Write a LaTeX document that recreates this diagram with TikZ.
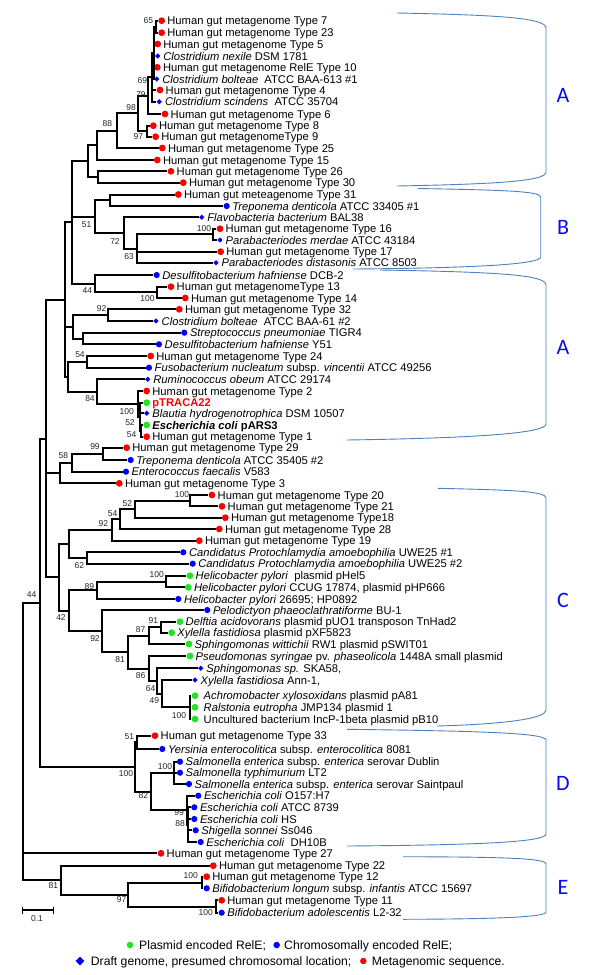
\documentclass[tikz,border=0pt]{standalone}
\usepackage{fontspec}
\setmainfont{Liberation Sans}
\newfontfamily\carlito{Carlito}
\usetikzlibrary{shapes.geometric}
\definecolor{mred}{RGB}{255,0,0}
\definecolor{mblue}{RGB}{0,0,255}
\definecolor{mgreen}{RGB}{30,230,30}
\definecolor{brkc}{RGB}{79,129,189}
\definecolor{cladeblue}{RGB}{10,10,240}
\newcommand{\leafnode}[6][5.5]{\node[#5] (#2) at (#3,#4) {};\node[lab,anchor=base west] (#2t) at ({#3+#1},{#4+4.2}) {#6};}
\begin{document}
\begin{tikzpicture}[x=1pt,y=-1pt,
  br/.style={line width=2pt, line join=miter},
  rdot/.style={circle, fill=mred, inner sep=0pt, minimum size=6.8pt},
  bdot/.style={circle, fill=mblue, inner sep=0pt, minimum size=6.2pt},
  gdot/.style={circle, fill=mgreen, inner sep=0pt, minimum size=6.8pt},
  bdia/.style={diamond, fill=mblue, inner sep=0pt, minimum size=5.4pt},
  lab/.style={font=\fontsize{11.2}{13}\selectfont, inner sep=0pt},
  bs/.style={font=\fontsize{8.5}{10}\selectfont, inner sep=0pt, text=black!85},
  brk/.style={draw=brkc, line width=0.9pt},
  clade/.style={font=\carlito\fontsize{22}{24}\selectfont, text=cladeblue, inner sep=0pt},
  leg/.style={font=\fontsize{12.2}{14}\selectfont, inner sep=0pt}]
\path[use as bounding box, fill=white] (0,0) rectangle (600,975);

% ---------- leaves ----------
\leafnode{L1}{161.7}{20.7}{rdot}{Human gut metagenome Type 7}
\leafnode{L2}{161.7}{32.7}{rdot}{Human gut metagenome Type 23}
\leafnode{L3}{157.7}{44}{rdot}{Human gut metagenome Type 5}
\leafnode{L4}{157.7}{56}{bdia}{\textit{Clostridium nexile} DSM 1781}
\leafnode{L5}{157.3}{67.3}{rdot}{Human gut metagenome RelE Type 10}
\leafnode{L6}{156.7}{79}{bdia}{\textit{Clostridium bolteae}\ \ ATCC BAA-613 \#1}
\leafnode{L7}{160}{90}{rdot}{Human gut metagenome Type 4}
\leafnode{L8}{159.3}{101.7}{bdia}{\textit{Clostridium scindens}\ \ ATCC 35704}
\leafnode{L9}{165}{114}{rdot}{Human gut metagenome Type 6}
\leafnode{L10}{153.3}{125.7}{rdot}{Human gut metagenome Type 8}
\leafnode{L11}{155.7}{136.7}{rdot}{Human gut metagenomeType 9}
\leafnode{L12}{162.3}{148}{rdot}{Human gut metagenome Type 25}
\leafnode{L13}{157.3}{160}{rdot}{Human gut metagenome Type 15}
\leafnode{L14}{171}{171.3}{rdot}{Human gut metagenome Type 26}
\leafnode{L15}{183.3}{182.7}{rdot}{Human gut metagenome Type 30}
\leafnode{L16}{178.3}{194.5}{rdot}{Human gut meteagenome Type 31}
\leafnode{L17}{226.7}{206}{bdot}{\textit{Treponema denticola} ATCC 33405 \#1}
\leafnode{L18}{201.7}{217.3}{bdia}{\textit{Flavobacteria bacterium} BAL38}
\leafnode{L19}{220}{228.7}{rdot}{Human gut metagenome Type 16}
\leafnode{L20}{220}{240}{bdia}{\textit{Parabacteriodes merdae} ATCC 43184}
\leafnode{L21}{220.7}{251.7}{rdot}{Human gut metagenome Type 17}
\leafnode{L22}{216}{262.7}{bdia}{\textit{Parabacteriodes distasonis} ATCC 8503}
\leafnode{L23}{156.7}{275}{bdot}{\textit{Desulfitobacterium hafniense} DCB-2}
\leafnode{L24}{171}{286.7}{rdot}{Human gut metagenomeType 13}
\leafnode{L25}{185.3}{298}{rdot}{Human gut metagenome Type 14}
\leafnode{L26}{179.3}{309.3}{rdot}{Human gut metagenome Type 32}
\leafnode{L27}{156}{321}{bdia}{\textit{Clostridium bolteae}\ \ ATCC BAA-61 \#2}
\leafnode{L28}{184.3}{332.7}{bdot}{\textit{Streptococcus pneumoniae} TIGR4}
\leafnode{L29}{159}{344.3}{bdot}{\textit{Desulfitobacterium hafniense} Y51}
\leafnode{L30}{150.7}{356}{rdot}{Human gut metagenome Type 24}
\leafnode{L31}{149}{367.7}{bdot}{\textit{Fusobacterium nucleatum} subsp. \textit{vincentii} ATCC 49256}
\leafnode{L32}{147.7}{379.3}{bdia}{\textit{Ruminococcus obeum} ATCC 29174}
\leafnode{L33}{146.7}{391}{rdot}{Human gut metagenome Type 2}
\leafnode{L34}{146.7}{402.7}{gdot}{\textcolor{mred}{\textbf{pTRACA22}}}
\leafnode{L35}{146.7}{413.3}{bdia}{\textit{Blautia hydrogenotrophica} DSM 10507}
\leafnode{L36}{146.7}{425}{gdot}{\textbf{\textit{Escherichia coli} pARS3}}
\leafnode{L37}{146.7}{436.7}{rdot}{Human gut metagenome Type 1}
\leafnode{L38}{126.7}{447.7}{rdot}{Human gut metagenome Type 29}
\leafnode{L39}{130.7}{460}{bdot}{\textit{Treponema denticola} ATCC 35405 \#2}
\leafnode{L40}{126}{471.7}{bdot}{\textit{Enterococcus faecalis} V583}
\leafnode{L41}{119.3}{483.3}{rdot}{Human gut metagenome Type 3}
\leafnode{L42}{212}{495}{rdot}{Human gut metagenome Type 20}
\leafnode{L43}{222}{506.3}{rdot}{Human gut metagenome Type 21}
\leafnode{L44}{225.3}{517.7}{rdot}{Human gut metagenome Type18}
\leafnode{L45}{219.3}{529}{rdot}{Human gut metagenome Type 28}
\leafnode{L46}{199.3}{540.7}{rdot}{Human gut metagenome Type 19}
\leafnode{L47}{183.3}{552.3}{bdot}{\textit{Candidatus Protochlamydia amoebophilia} UWE25 \#1}
\leafnode{L48}{192.7}{563.7}{bdot}{\textit{Candidatus Protochlamydia amoebophilia} UWE25 \#2}
\leafnode{L49}{190}{575.7}{gdot}{\textit{Helicobacter pylori}\ \ plasmid pHel5}
\leafnode{L50}{188.3}{587.3}{gdot}{\textit{Helicobacter pylori} CCUG 17874, plasmid pHP666}
\leafnode{L51}{178.3}{599}{bdot}{\textit{Helicobacter pylori} 26695; HP0892}
\leafnode{L52}{207.3}{610}{bdot}{\textit{Pelodictyon phaeoclathratiforme} BU-1}
\leafnode{L53}{180}{621.7}{gdot}{\textit{Delftia acidovorans} plasmid pUO1 transposon TnHad2}
\leafnode{L54}{171.7}{632.7}{gdot}{\textit{Xylella fastidiosa} plasmid pXF5823}
\leafnode{L55}{189}{644}{gdot}{\textit{Sphingomonas wittichii} RW1 plasmid pSWIT01}
\leafnode{L56}{190}{656}{gdot}{\textit{Pseudomonas syringae} pv. \textit{phaseolicola} 1448A small plasmid}
\leafnode{L57}{200.7}{668.3}{bdia}{\textit{Sphingomonas sp.} SKA58,}
\leafnode{L58}{195}{680}{bdia}{\textit{Xylella fastidiosa} Ann-1,}
\leafnode[8.5]{L59}{195}{695.7}{gdot}{\textit{Achromobacter xylosoxidans} plasmid pA81}
\leafnode[8.5]{L60}{195}{707.3}{gdot}{\textit{Ralstonia eutropha} JMP134 plasmid 1}
\leafnode[8.5]{L61}{195}{719}{gdot}{Uncultured bacterium IncP-1beta plasmid pB10}
\leafnode{L62}{155}{735.7}{rdot}{Human gut metagenome Type 33}
\leafnode{L63}{162.3}{749}{bdot}{\textit{Yersinia enterocolitica} subsp. \textit{enterocolitica} 8081}
\leafnode{L64}{180}{761.7}{bdot}{\textit{Salmonella enterica} subsp. \textit{enterica} serovar Dublin}
\leafnode{L65}{180}{772.7}{bdot}{\textit{Salmonella typhimurium} LT2}
\leafnode{L66}{189}{784}{bdot}{\textit{Salmonella enterica} subsp. \textit{enterica} serovar Saintpaul}
\leafnode{L67}{198.3}{795.7}{bdot}{\textit{Escherichia coli} O157:H7}
\leafnode{L68}{194.3}{807.3}{bdot}{\textit{Escherichia coli} ATCC 8739}
\leafnode{L69}{194.3}{819}{bdot}{\textit{Escherichia coli} HS}
\leafnode{L70}{195.7}{830.3}{bdot}{\textit{Shigella sonnei} Ss046}
\leafnode{L71}{200.7}{842}{bdot}{\textit{Escherichia coli}\ \ DH10B}
\leafnode{L72}{161}{853.3}{rdot}{Human gut metagenome Type 27}
\leafnode{L73}{213.3}{865.7}{rdot}{Human gut metagenome Type 22}
\leafnode{L74}{206.7}{876.7}{rdot}{Human gut metagenome Type 12}
\leafnode{L75}{206.7}{888.3}{bdot}{\textit{Bifidobacterium longum} subsp. \textit{infantis} ATCC 15697}
\leafnode{L76}{221.7}{900.3}{rdot}{Human gut metagenome Type 11}
\leafnode{L77}{221.7}{912.7}{bdot}{\textit{Bifidobacterium adolescentis} L2-32}

% ---------- internal nodes ----------
\coordinate (tA1) at (155.5,26.7);
\coordinate (nTop) at (153.5,52.85);
\coordinate (n69) at (151.5,77.3);
\coordinate (n79) at (148.3,95.6);
\coordinate (n97) at (146.7,131.2);
\coordinate (n98) at (138.3,113.4);
\coordinate (n88b) at (116.7,130.7);
\coordinate (n88) at (96.7,145.3);
\coordinate (nX265) at (88.3,161.2);
\coordinate (nX295) at (98.3,177);
\coordinate (n100B) at (213.3,234.3);
\coordinate (n63) at (136.7,248.5);
\coordinate (n72) at (124,232.9);
\coordinate (nX330) at (110,200.3);
\coordinate (n51) at (95,216.6);
\coordinate (n100b) at (156.7,292.3);
\coordinate (n44a) at (95,283.7);
\coordinate (nX215) at (71.7,222.4);
\coordinate (n92a) at (108.3,315.2);
\coordinate (nSp) at (82.7,338.5);
\coordinate (nX218) at (72.7,326.8);
\coordinate (n54a) at (87.3,361.8);
\coordinate (c3) at (141,430.8);
\coordinate (c2) at (139.5,416.8);
\coordinate (c1) at (138.3,403.9);
\coordinate (n84) at (96.7,391.6);
\coordinate (nX205) at (68.3,376.7);
\coordinate (nX65) at (65,299.6);
\coordinate (n99) at (103.3,453.8);
\coordinate (nX71b) at (71.7,462.8);
\coordinate (n58) at (60,473);
\coordinate (n100c) at (190,500.7);
\coordinate (n52c) at (135,509.2);
\coordinate (n54c) at (120,519.1);
\coordinate (n92c) at (111.7,529.9);
\coordinate (n62) at (87.3,558);
\coordinate (nX69) at (69.3,544);
\coordinate (n100h) at (166,581.5);
\coordinate (n89) at (96.7,590.3);
\coordinate (n91) at (160.7,627.2);
\coordinate (n87) at (149.3,635.6);
\coordinate (n100a) at (190,707.3);
\coordinate (n49) at (161.7,693.7);
\coordinate (n64) at (157,681);
\coordinate (n86) at (149.3,668.5);
\coordinate (n81) at (128.3,652);
\coordinate (n92d) at (101.7,631);
\coordinate (n42) at (69.3,610.7);
\coordinate (nX59) at (59.3,577.3);
\coordinate (nX46) at (46,438.5);
\coordinate (n51d) at (137.3,742.3);
\coordinate (nSal) at (174,772.8);
\coordinate (nEc2) at (188.3,824.7);
\coordinate (nEc1) at (186.7,810.2);
\coordinate (n82) at (150.7,791.5);
\coordinate (n100d) at (135,766.9);
\coordinate (nX40) at (40,602.7);
\coordinate (n100e1) at (201.7,882.5);
\coordinate (n100e2) at (216,906.5);
\coordinate (n97e) at (128.3,894.5);
\coordinate (n81e) at (61,880.1);
\coordinate (root) at (22.7,741.4);

% ---------- branches ----------
\foreach \p/\c in {tA1/L1, tA1/L2,
  nTop/tA1, nTop/L3, nTop/L4, nTop/L5, nTop/L6,
  n69/nTop, n69/L7, n69/L8, n79/n69, n79/L9,
  n97/L10, n97/L11, n98/n79, n98/n97, n88b/n98, n88b/L12,
  n88/n88b, n88/L13, nX295/L14, nX295/L15, nX265/n88, nX265/nX295,
  nX330/L16, nX330/L17, n100B/L19, n100B/L20,
  n63/n100B, n63/L21, n63/L22, n72/L18, n72/n63, n51/nX330, n51/n72,
  n100b/L24, n100b/L25, n44a/L23, n44a/n100b,
  nX215/nX265, nX215/n51, nX215/n44a,
  n92a/L26, n92a/L27, nSp/L28, nSp/L29, nX218/n92a, nX218/nSp,
  n54a/L30, n54a/L31, c3/L36, c3/L37, c2/L34, c2/L35, c2/c3,
  c1/L33, c1/c2, n84/L32, n84/c1, nX205/n54a, nX205/n84,
  nX65/nX215, nX65/nX218, nX65/nX205,
  n99/L38, n99/L39, nX71b/n99, nX71b/L40, n58/nX71b, n58/L41,
  n100c/L42, n100c/L43, n52c/n100c, n52c/L44, n54c/n52c, n54c/L45,
  n92c/n54c, n92c/L46, n62/L47, n62/L48, nX69/n92c, nX69/n62,
  n100h/L49, n100h/L50, n89/n100h, n89/L51,
  n91/L53, n91/L54, n87/n91, n87/L55,
  n100a/L59, n100a/L60, n100a/L61, n49/L58, n49/n100a,
  n64/L57, n64/n49, n86/L56, n86/n64, n81/n87, n81/n86,
  n92d/L52, n92d/n81, n42/n89, n42/n92d, nX59/nX69, nX59/n42,
  nX46/nX65, nX46/n58, nX46/nX59,
  n51d/L62, n51d/L63, nSal/L64, nSal/L65, nSal/L66,
  nEc2/L68, nEc2/L69, nEc2/L70, nEc2/L71, nEc1/L67, nEc1/nEc2,
  n82/nSal, n82/nEc1, n100d/n51d, n100d/n82,
  nX40/nX46, nX40/n100d,
  n100e1/L74, n100e1/L75, n100e2/L76, n100e2/L77,
  n97e/n100e1, n97e/n100e2, n81e/L73, n81e/n97e,
  root/nX40, root/L72, root/n81e}
  {\draw[br] (\p) |- (\c);}

% ---------- bootstrap values ----------
\foreach \x/\y/\t [count=\i] in {148.3/20.7/65, 142.3/81/69, 141/94.3/79, 131/107.7/98,
  107.3/124/88, 138.3/136.7/97, 86.7/224.3/51, 115/241.7/72, 204/228.7/100,
  129/256.7/63, 87.3/290.7/44, 147.5/298.3/100, 101.7/309/92, 80/355/54,
  90/398.3/84, 126.7/411.7/100, 130/422.7/52, 131.7/434.3/54, 95/446.7/99,
  63.3/456/58, 182/495/100, 127.3/503.3/52, 112.7/513.3/54, 103.3/524/92,
  79.3/565.7/62, 156.7/575/100, 89.3/586.7/89, 31.7/595/44, 61/617.7/42,
  153.3/620.7/91, 140.7/629.7/87, 95/638.3/92, 120/659.3/81, 140.7/676/86,
  150.7/688.3/64, 154.3/700.7/49, 179/715.7/100, 129.3/736.7/51,
  165/766.3/100, 126/773.3/100, 143.3/796/82, 179/812.3/99, 180/823.3/88,
  53.3/886/81, 190.7/876/100, 121.7/900/97, 205.7/912.7/100}
  {\node[bs] (bs\i) at (\x,\y) {\t};}

% ---------- clade brackets ----------
\draw[brk] (397,13) .. controls (500,15) and (546,18) .. (546,28) -- (546,172)
  .. controls (546,181) and (500,184) .. (397,186);
\draw[brk] (418,188.5) .. controls (500,190) and (540.7,191) .. (540.7,197) -- (540.7,257)
  .. controls (540.7,264) and (480,268) .. (353,269);
\draw[brk] (380,270) .. controls (500,272) and (546,275) .. (546,285) -- (546,424)
  .. controls (546,433) and (480,438) .. (347,440);
\draw[brk] (438,488.3) .. controls (510,490) and (546,491) .. (546,498) -- (546,710)
  .. controls (546,718) and (510,724) .. (437,726);
\draw[brk] (347,729.3) .. controls (480,731) and (546,733) .. (546,740) -- (546,834)
  .. controls (546,842) and (480,845) .. (347,846);
\draw[brk] (403,856.7) .. controls (500,857) and (546,858) .. (546,864) -- (546,912)
  .. controls (546,917) and (500,919) .. (403,919.3);
\node[clade] (cA1) at (563,95) {A};
\node[clade] (cB) at (563,227) {B};
\node[clade] (cA2) at (563,347) {A};
\node[clade] (cC) at (563,600) {C};
\node[clade] (cD) at (563,783) {D};
\node[clade] (cE) at (563,887) {E};

% ---------- scale bar ----------
\coordinate (sb1) at (22.7,910);
\coordinate (sb2) at (53.3,910);
\draw[line width=1.2pt] (sb1) -- (sb2);
\draw[line width=1.2pt] ([yshift=3.5pt]sb1) -- ([yshift=-3.5pt]sb1);
\draw[line width=1.2pt] ([yshift=3.5pt]sb2) -- ([yshift=-3.5pt]sb2);
\node[bs] (sbl) at (37,918.5) {0.1};

% ---------- legend ----------
\node[gdot, minimum size=6.5pt] (lg1) at (130,945) {};
\node[leg, anchor=base west] (lt1) at (139,949.4) {Plasmid encoded RelE;};
\node[bdot, minimum size=6.5pt] (lg2) at (276.7,945) {};
\node[leg, anchor=base west] (lt2) at (284,949.4) {Chromosomally encoded RelE;};
\node[bdia, minimum size=9pt] (lg3) at (80,961) {};
\node[leg, anchor=base west] (lt3) at (90.7,965.4) {Draft genome, presumed chromosomal location;};
\node[rdot, minimum size=6.5pt] (lg4) at (363.3,961) {};
\node[leg, anchor=base west] (lt4) at (371.7,965.4) {Metagenomic sequence.};
\end{tikzpicture}
\end{document}
